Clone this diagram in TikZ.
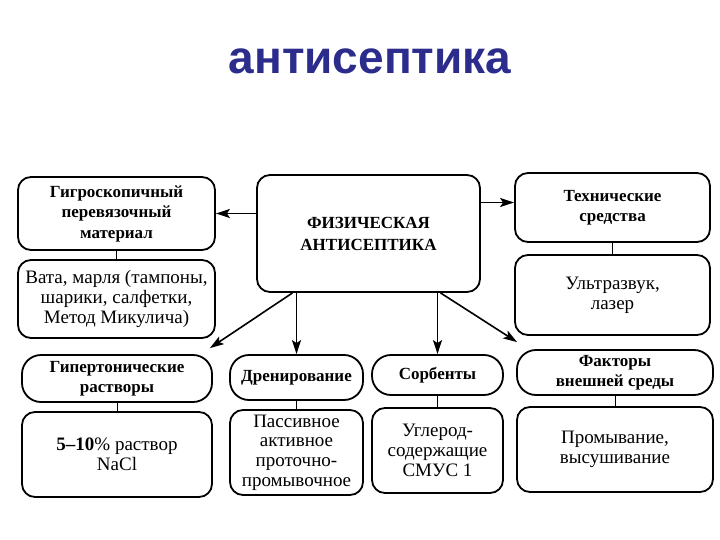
\documentclass[tikz,border=0pt]{standalone}
\usepackage{fontspec}
\setmainfont{Liberation Serif}
\newfontfamily\titlefont{Liberation Sans}
\usetikzlibrary{arrows.meta}
\definecolor{titleblue}{RGB}{44,44,140}
\tikzset{
  box/.style={draw=black, line width=1.8pt, rounded corners=13pt, align=center, inner sep=1pt},
  pill/.style={box, rounded corners=19pt},
  head/.style={font=\fontsize{17}{20.5}\selectfont\bfseries},
  body/.style={font=\fontsize{19}{19.8}\selectfont},
  link/.style={line width=1pt},
  arr/.style={line width=1.6pt, -{Stealth[length=14pt,width=9pt,inset=3pt]}},
}
\begin{document}
\begin{tikzpicture}[x=1pt,y=-1pt]
\useasboundingbox (0,0) rectangle (720,540);
\node[font=\titlefont\fontsize{46}{52}\selectfont\bfseries, text=titleblue] (title) at (370,61) {антисептика};

\node[box, minimum width=223pt, minimum height=117pt, font=\fontsize{17}{22}\selectfont\bfseries] (phys) at (368.5,233.5) {ФИЗИЧЕСКАЯ\\АНТИСЕПТИКА};

\node[box, head, minimum width=197pt, minimum height=73pt] (gig) at (116.5,213.5) {Гигроскопичный\\перевязочный\\материал};
\node[box, body, minimum width=197pt, minimum height=78pt] (vata) at (116.5,299) {Вата, марля (тампоны,\\шарики, салфетки,\\Метод Микулича)};

\node[box, head, minimum width=195pt, minimum height=69pt] (tech) at (612.5,207.5) {Технические\\средства};
\node[box, body, minimum width=195pt, minimum height=80pt] (ultra) at (612.5,295) {Ультразвук,\\лазер};

\node[pill, head, minimum width=190pt, minimum height=47pt] (hyp) at (117,378.5) {Гипертонические\\растворы};
\node[box, body, minimum width=190pt, minimum height=85pt] (nacl) at (117,454.5) {\textbf{5–10}\% раствор\\NaCl};

\node[pill, head, minimum width=133pt, minimum height=45pt] (dren) at (296.5,377.5) {Дренирование};
\node[box, body, minimum width=133pt, minimum height=85pt] (pass) at (296.5,452.5) {Пассивное\\активное\\проточно-\\промывочное};

\node[pill, head, minimum width=131pt, minimum height=40pt] (sorb) at (437.5,375) {Сорбенты};
\node[box, body, minimum width=131pt, minimum height=85pt] (ugl) at (437.5,450.5) {Углерод-\\содержащие\\СМУС 1};

\node[pill, head, minimum width=196pt, minimum height=45pt] (fakt) at (615,372.5) {Факторы\\внешней среды};
\node[box, body, minimum width=196pt, minimum height=85pt] (prom) at (615,449.5) {Промывание,\\высушивание};

\draw[link] (gig.south) -- (vata.north);
\draw[link] (tech.south) -- (ultra.north);
\draw[link] (hyp.south) -- (nacl.north);
\draw[link] (dren.south) -- (pass.north);
\draw[link] (sorb.south) -- (ugl.north);
\draw[link] (fakt.south) -- (prom.north);

\draw[arr] (phys.west |- gig.east) -- (gig.east);
\draw[arr] ([yshift=5pt]phys.east |- tech.west) -- ([yshift=5pt]tech.west);
\draw[arr] (dren.north |- phys.south) -- (dren.north);
\draw[arr] (sorb.north |- phys.south) -- (sorb.north);
\draw[arr] ([xshift=-4pt]dren.north |- phys.south) -- ([xshift=-3pt,yshift=6pt]hyp.north east);
\draw[arr] ([xshift=3pt]sorb.north |- phys.south) -- ([xshift=1pt,yshift=7pt]fakt.north west);
\end{tikzpicture}
\end{document}
